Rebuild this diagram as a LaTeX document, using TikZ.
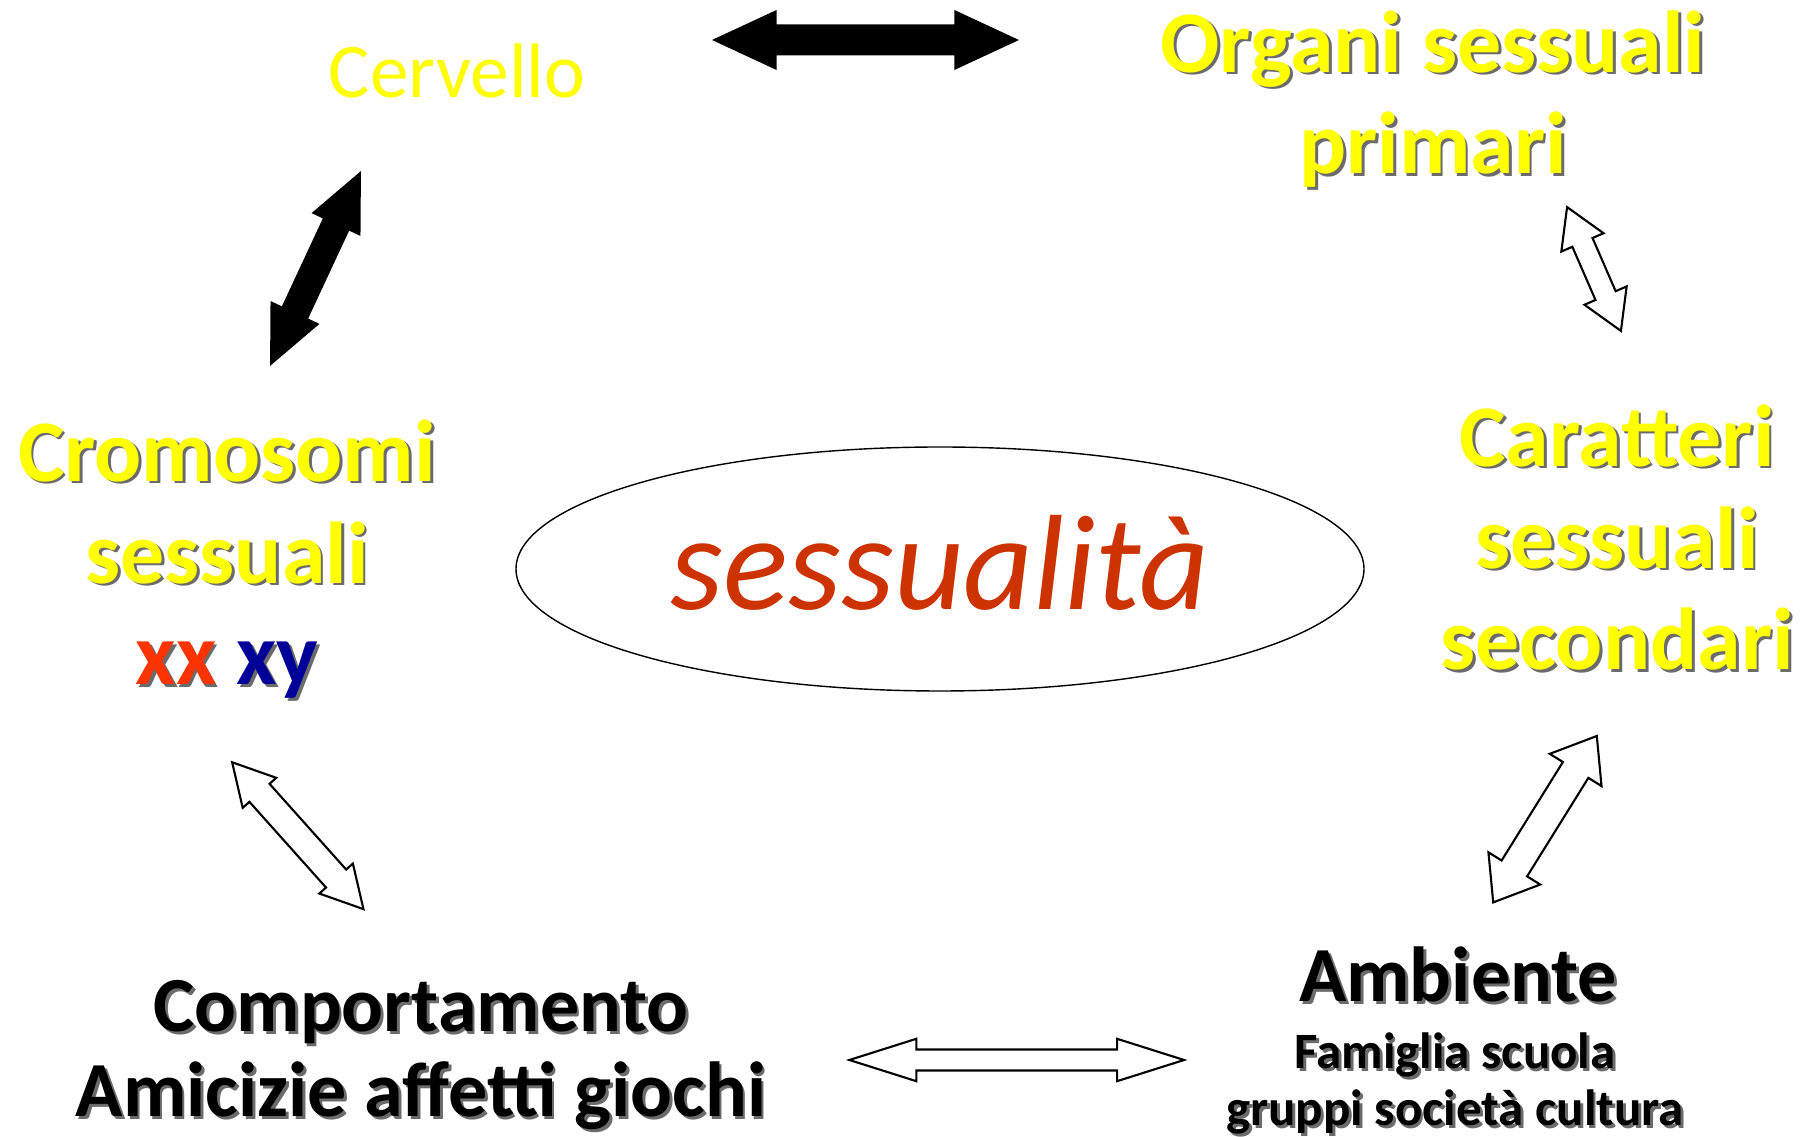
\documentclass[tikz,border=0pt]{standalone}
\usepackage{fontspec}
\setmainfont{Carlito}
\usepackage{xcolor}
\usetikzlibrary{shapes.geometric}
\definecolor{sexyellow}{HTML}{FFFF00}
\definecolor{sexred}{HTML}{CC3300}
\definecolor{xxred}{HTML}{FF3300}
\definecolor{xyblue}{HTML}{000099}
\definecolor{shadowgray}{gray}{0.42}
% text with a soft drop shadow
\newcommand{\shtxt}[2]{\leavevmode\rlap{\kern0.8pt\raisebox{-0.8pt}{\textcolor{shadowgray}{#2}}}\textcolor{#1}{#2}}
\tikzset{
  plainlab/.style={font=\fontsize{22}{26}\selectfont,text=sexyellow,anchor=base,inner sep=0pt},
  biglab/.style={font=\fontsize{25}{29}\selectfont\bfseries,align=center,anchor=base,inner sep=0pt},
  midlab/.style={font=\fontsize{22.2}{24.4}\selectfont\bfseries,align=center,anchor=base,inner sep=0pt},
  smalllab/.style={font=\fontsize{14.5}{16.4}\selectfont\bfseries,align=center,anchor=base,inner sep=0pt}
}

\begin{document}
\begin{tikzpicture}[x=1cm,y=1cm]
\fill[white] (0,0) rectangle (18.06,11.37);
\useasboundingbox (0,0) rectangle (18.06,11.37);

% central ellipse
\node[draw,thin,ellipse,minimum width=8.48cm,minimum height=2.44cm,inner sep=0pt,
      text=sexred,font=\fontsize{38.6}{44}\selectfont\itshape,
      text height=0.82cm,text depth=0pt] (sex) at (9.40,5.68) {sessualità};

% labels round the ellipse (base = last line)
\node[plainlab] (brain) at (4.57,10.39) {Cervello};
\node[biglab] (organs) at (14.33,9.63)
  {\shtxt{sexyellow}{Organi sessuali}\\\shtxt{sexyellow}{primari}};
\node[biglab] (chrom) at (2.27,4.52)
  {\shtxt{sexyellow}{Cromosomi}\\\shtxt{sexyellow}{sessuali}\\\shtxt{xxred}{xx}\ \shtxt{xyblue}{xy}};
\node[biglab] (traits) at (16.17,4.67)
  {\shtxt{sexyellow}{Caratteri}\\\shtxt{sexyellow}{sessuali}\\\shtxt{sexyellow}{secondari}};
\node[midlab] (behav) at (4.21,0.20)
  {\shtxt{black}{Comportamento}\\\shtxt{black}{Amicizie affetti giochi}};
\node[midlab] (env) at (14.58,1.35) {\shtxt{black}{Ambiente}};
\node[smalllab] (envsub) at (14.55,0.11)
  {\shtxt{black}{Famiglia scuola}\\\shtxt{black}{gruppi società cultura}};

% solid block arrows: centre / angle / length / head half width / shaft half width / head length
\foreach \cx/\cy/\ang/\len/\hw/\sw/\hl in {8.655/10.97/0/3.07/0.30/0.155/0.646,
    3.155/8.685/65/2.15/0.27/0.145/0.59}{
  \begin{scope}[shift={(\cx,\cy)},rotate=\ang]
    \pgfmathsetmacro{\xa}{\len/2}\pgfmathsetmacro{\xb}{\len/2-\hl}
    \fill[black] (-\xa,0)--(-\xb,\hw)--(-\xb,\sw)--(\xb,\sw)--(\xb,\hw)--(\xa,0)
      --(\xb,-\hw)--(\xb,-\sw)--(-\xb,-\sw)--(-\xb,-\hw)--cycle;
  \end{scope}}

% outlined block arrows
\foreach \cx/\cy/\ang/\len/\hw/\sw/\hl in {15.94/8.68/113.5/1.35/0.23/0.11/0.385,
    15.45/3.178/58.1/1.96/0.305/0.15/0.40,
    2.978/3.013/131.8/1.97/0.225/0.135/0.41,
    10.167/0.77/0/3.347/0.212/0.105/0.67}{
  \begin{scope}[shift={(\cx,\cy)},rotate=\ang]
    \pgfmathsetmacro{\xa}{\len/2}\pgfmathsetmacro{\xb}{\len/2-\hl}
    \draw[line width=0.6pt,fill=white] (-\xa,0)--(-\xb,\hw)--(-\xb,\sw)--(\xb,\sw)--(\xb,\hw)--(\xa,0)
      --(\xb,-\hw)--(\xb,-\sw)--(-\xb,-\sw)--(-\xb,-\hw)--cycle;
  \end{scope}}
\end{tikzpicture}
\end{document}
